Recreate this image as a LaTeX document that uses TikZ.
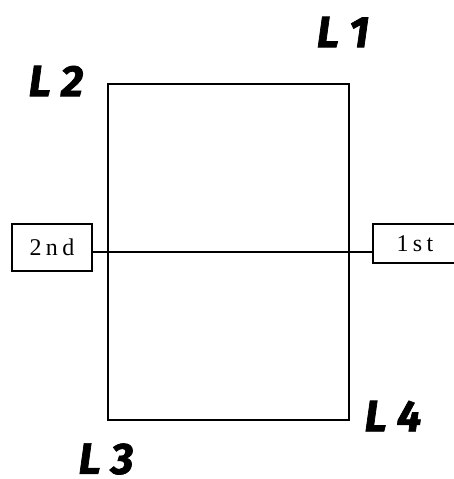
\documentclass[tikz,border=0pt]{standalone}
\usepackage{fontspec}
\usepackage{tikz}
\newfontfamily\labelfont{Fira Sans}[BoldItalicFeatures={FakeBold=1.6}]
\newfontfamily\boxfont{Liberation Serif}[LetterSpace=18]

\begin{document}
\begin{tikzpicture}[x=1pt,y=-1pt,
	box/.style={draw,line width=1.6pt,inner sep=0pt,font=\boxfont\fontsize{24}{28}\selectfont},
	corner/.style={inner sep=0pt,font=\labelfont\bfseries\itshape\fontsize{44}{48}\selectfont}]

	\useasboundingbox (0,0) rectangle (454,479);
	\clip (0,0) rectangle (454,479);

	\node[box,minimum width=241pt,minimum height=336pt] (frame) at (228.5,252) {};

	\node[box,minimum width=80pt,minimum height=47pt] (second) at (52,247.5) {2nd};
	\node[box,minimum width=84pt,minimum height=39pt] (first) at (415,243.5) {1st};

	\draw[line width=1.6pt] (second.east |- frame.center) -- (first.west |- frame.center);

	\node[corner] (l1) at (343,32) {L 1};
	\node[corner] (l2) at (56,81) {L 2};
	\node[corner] (l3) at (106,459) {L 3};
	\node[corner] (l4) at (393,416) {L 4};

\end{tikzpicture}
\end{document}
